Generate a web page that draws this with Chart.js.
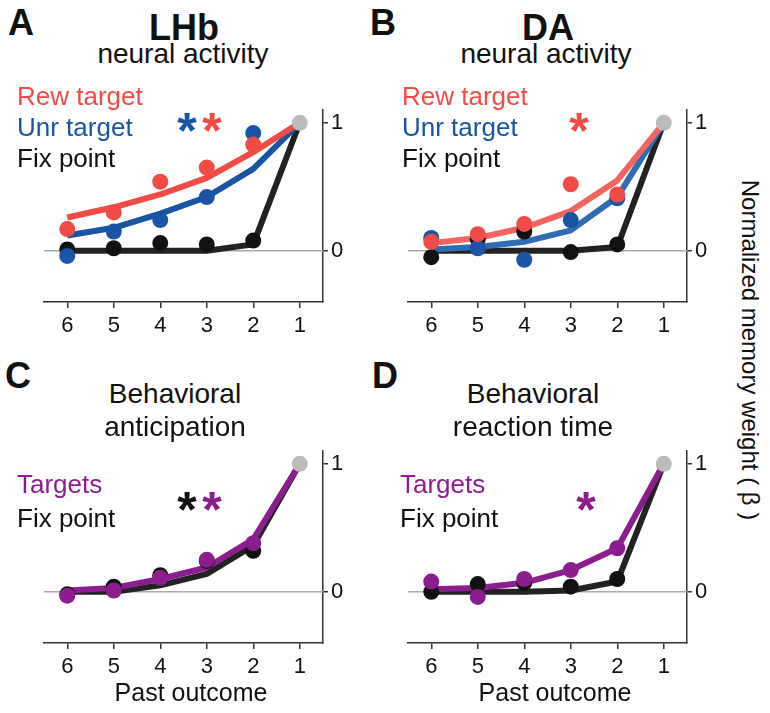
<!DOCTYPE html>
<html>
<head>
<meta charset="utf-8">
<script src="https://cdn.jsdelivr.net/npm/chart.js@4"></script>
<style>
  body { margin: 0; background: #fff; }
  #page { position: relative; width: 770px; height: 713px; overflow: hidden; font-family: "Liberation Sans", Arial, sans-serif; color: #111; }
  canvas { position: absolute; }
  .txt { position: absolute; white-space: nowrap; line-height: 1; }
</style>
</head>
<body>
<div id="page"></div>
<script>
// past outcomes, oldest (6) on the left, latest (1) on the right
const pastOutcome = [6, 5, 4, 3, 2, 1];
const dotOutcome = [6, 5, 4, 3, 2];
const xTicks = [6, 5, 4, 3, 2, 1];
const yTicks = [0, 1];
const latestWeight = 1;

// A: LHb neural activity
const lhbRewFit = [0.26, 0.34, 0.44, 0.57, 0.77, 1];
const lhbRewDots = [0.17, 0.30, 0.54, 0.65, 0.83];
const lhbUnrFit = [0.12, 0.18, 0.29, 0.42, 0.64, 1];
const lhbUnrDots = [-0.04, 0.15, 0.24, 0.42, 0.92];
const lhbFixFit = [0, 0, 0, 0, 0.05, 1];
const lhbFixDots = [0.01, 0.02, 0.06, 0.05, 0.08];

// B: DA neural activity
const daRewFit = [0.06, 0.10, 0.18, 0.31, 0.55, 1];
const daRewDots = [0.07, 0.13, 0.21, 0.52, 0.44];
const daUnrFit = [0.01, 0.03, 0.07, 0.16, 0.42, 1];
const daUnrDots = [0.10, 0.02, -0.07, 0.24, 0.41];
const daFixFit = [0, 0, 0, 0, 0.03, 1];
const daFixDots = [-0.05, 0.09, 0.15, -0.01, 0.05];

// C: behavioral anticipation
const antTargetsFit = [0.01, 0.03, 0.10, 0.19, 0.41, 1];
const antTargetsDots = [-0.03, 0.01, 0.11, 0.25, 0.38];
const antFixFit = [0, 0, 0.05, 0.14, 0.36, 1];
const antFixDots = [-0.02, 0.04, 0.13, 0.24, 0.32];

// D: behavioral reaction time
const rtTargetsFit = [0.02, 0.03, 0.07, 0.17, 0.34, 1];
const rtTargetsDots = [0.08, -0.04, 0.10, 0.17, 0.34];
const rtFixFit = [0, 0, 0, 0.01, 0.08, 1];
const rtFixDots = [0.0, 0.06, 0.07, 0.04, 0.10];

const RED = '#f04c45', BLUE = '#1a54a5', RED_B = '#f2655e', BLUE_B = '#2e6cb3';
const PURPLE = '#8c1d8f', BLACK = '#222222', GRAY = '#bbbbbb';
const FONT = '"Liberation Sans", Arial, sans-serif';

const page = document.getElementById('page');

function label(text, x, baseline, size, opts) {
    opts = opts || {};
    const d = document.createElement('div');
    d.className = 'txt';
    d.textContent = text;
    d.style.fontSize = size + 'px';
    d.style.top = (baseline - 0.8465 * size) + 'px';
    d.style.left = x + 'px';
    if (opts.bold) d.style.fontWeight = 'bold';
    if (opts.color) d.style.color = opts.color;
    if (opts.center) d.style.transform = 'translateX(-50%)';
    page.appendChild(d);
}

function star(x, cy, color) {
    label('*', x, cy + 0.56 * 50, 50, {bold: true, color: color, center: true});
}

function pts(xs, ys) {
    return ys.map((v, i) => ({x: xs[i], y: v}));
}

function fitLine(values, color, order) {
    return {type: 'line', data: pts(pastOutcome, values), borderColor: color, borderWidth: 6,
        borderJoinStyle: 'round', pointRadius: 0, fill: false, clip: false, order: order};
}

function dots(values, color, order) {
    return {type: 'line', data: pts(dotOutcome, values), showLine: false, pointRadius: 8,
        pointBackgroundColor: color, pointBorderWidth: 0, clip: false, order: order};
}

const zeroLine = {
    id: 'zeroLine',
    beforeDatasetsDraw(chart) {
        const ctx = chart.ctx;
        const y = chart.scales.y.getPixelForValue(0);
        ctx.save();
        ctx.strokeStyle = '#aaaaaa';
        ctx.lineWidth = 1.5;
        ctx.beginPath();
        ctx.moveTo(chart.chartArea.left, y);
        ctx.lineTo(chart.chartArea.right, y);
        ctx.stroke();
        ctx.restore();
    }
};

function makePanel(area, datasets) {
    const padL = 20, padT = 20, padR = 10, padB = 10, yW = 40, xH = 40;
    const c = document.createElement('canvas');
    const w = area.right - area.left + padL + padR + yW;
    const h = area.bottom - area.top + padT + padB + xH;
    c.width = w; c.height = h;
    c.style.left = (area.left - padL) + 'px';
    c.style.top = (area.top - padT) + 'px';
    page.appendChild(c);
    datasets.push({type: 'line', data: [{x: 1, y: latestWeight}], showLine: false, pointRadius: 8,
        pointBackgroundColor: GRAY, pointBorderWidth: 0, clip: false, order: 0});
    new Chart(c.getContext('2d'), {
        type: 'line',
        data: {datasets: datasets},
        options: {
            responsive: false,
            animation: false,
            events: [],
            layout: {padding: {left: padL, top: padT, right: padR, bottom: padB}},
            plugins: {legend: {display: false}, tooltip: {enabled: false}},
            scales: {
                x: {
                    type: 'linear', min: 0.5, max: 6.5, reverse: true,
                    afterBuildTicks: s => { s.ticks = xTicks.map(v => ({value: v})); },
                    afterFit: s => { s.height = xH; },
                    border: {display: true, color: '#333', width: 1.5},
                    grid: {drawOnChartArea: false, drawTicks: true, tickLength: 6, color: '#333', lineWidth: 1.5},
                    ticks: {color: '#111', font: {family: FONT, size: 22}, padding: 5, maxRotation: 0,
                        callback: v => String(v)}
                },
                y: {
                    type: 'linear', position: 'right', min: -0.4, max: 1.1,
                    afterBuildTicks: s => { s.ticks = yTicks.map(v => ({value: v})); },
                    afterFit: s => { s.width = yW; },
                    border: {display: true, color: '#333', width: 1.5},
                    grid: {drawOnChartArea: false, drawTicks: true, tickLength: 5, color: '#333', lineWidth: 1.5},
                    ticks: {color: '#111', font: {family: FONT, size: 22}, padding: 3,
                        callback: v => String(v)}
                }
            }
        },
        plugins: [zeroLine]
    });
}

// A
makePanel({left: 44, top: 110, right: 323, bottom: 302}, [
    fitLine(lhbFixFit, BLACK, 9), fitLine(lhbUnrFit, BLUE, 8), fitLine(lhbRewFit, RED, 7),
    dots(lhbFixDots, '#111', 6), dots(lhbUnrDots, BLUE, 5), dots(lhbRewDots, RED, 4)
]);
// B
makePanel({left: 408, top: 110, right: 687, bottom: 302}, [
    fitLine(daFixFit, BLACK, 9), fitLine(daUnrFit, BLUE_B, 8), fitLine(daRewFit, RED_B, 7),
    dots(daFixDots, '#111', 6), dots(daUnrDots, BLUE, 5), dots(daRewDots, RED, 4)
]);
// C
makePanel({left: 44, top: 451, right: 323, bottom: 643}, [
    fitLine(antFixFit, BLACK, 9), fitLine(antTargetsFit, PURPLE, 8),
    dots(antFixDots, '#111', 6), dots(antTargetsDots, PURPLE, 5)
]);
// D
makePanel({left: 408, top: 451, right: 687, bottom: 643}, [
    fitLine(rtFixFit, BLACK, 9), fitLine(rtTargetsFit, PURPLE, 8),
    dots(rtFixDots, '#111', 6), dots(rtTargetsDots, PURPLE, 5)
]);

// panel letters and titles
label('A', 8, 35, 36, {bold: true});
label('B', 370, 35, 36, {bold: true});
label('C', 5, 388, 36, {bold: true});
label('D', 372, 388, 36, {bold: true});
label('LHb', 184, 40, 36, {bold: true, center: true});
label('neural activity', 183, 64, 28, {center: true});
label('DA', 548, 40, 36, {bold: true, center: true});
label('neural activity', 546, 64, 28, {center: true});
label('Behavioral', 175, 404, 28, {center: true});
label('anticipation', 175, 437, 28, {center: true});
label('Behavioral', 533, 404, 28, {center: true});
label('reaction time', 533, 437, 28, {center: true});

// legends
label('Rew target', 17, 105, 26, {color: RED});
label('Unr target', 17, 136, 26, {color: BLUE});
label('Fix point', 17, 167, 26, {color: '#111'});
label('Rew target', 402, 105, 26, {color: RED});
label('Unr target', 402, 136, 26, {color: BLUE});
label('Fix point', 402, 167, 26, {color: '#111'});
label('Targets', 17, 493, 26, {color: PURPLE});
label('Fix point', 17, 527, 26, {color: '#111'});
label('Targets', 400, 493, 26, {color: PURPLE});
label('Fix point', 400, 527, 26, {color: '#111'});

// significance stars
star(187, 120, BLUE);
star(212, 120, RED);
star(579, 120, RED);
star(187, 499, '#111');
star(212, 499, PURPLE);
star(586, 499, PURPLE);

// axis titles
label('Past outcome', 191, 701, 25, {center: true});
label('Past outcome', 555, 701, 25, {center: true});

const yTitle = document.createElement('div');
yTitle.className = 'txt';
yTitle.textContent = 'Normalized memory weight ( β )';
yTitle.style.fontSize = '24px';
yTitle.style.left = '750px';
yTitle.style.top = '350px';
yTitle.style.transform = 'translate(-50%, -50%) rotate(90deg)';
page.appendChild(yTitle);
</script>
</body>
</html>
